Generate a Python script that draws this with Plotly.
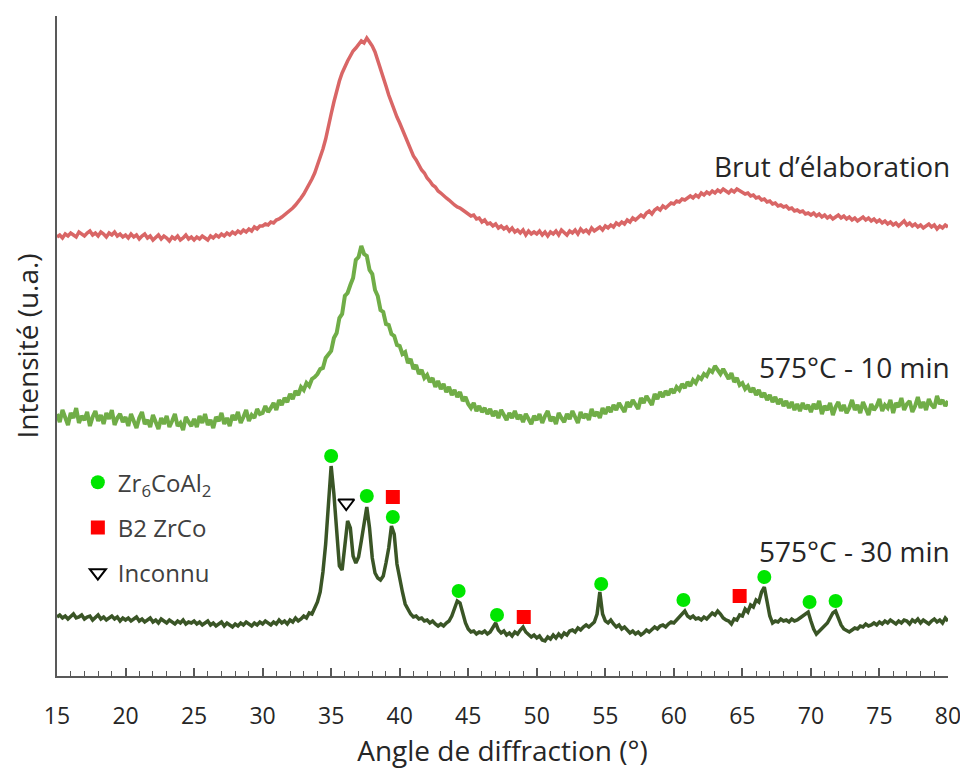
import numpy as np
import plotly.graph_objects as go

# 2-theta grid (degrees), 0.2 deg step from 15 to 80
angle = np.round(np.arange(15.0, 80.0001, 0.2), 1)

# Intensities (arbitrary units), offset curves
brut = [
    439, 441, 438, 442, 440, 443, 441, 439, 444, 442, 440, 443, 445, 441, 443, 440, 444, 442, 439, 443, 441, 444, 440, 442, 439,
    441, 438, 442, 439, 441, 437, 440, 442, 438, 440, 436, 439, 441, 437, 440, 438, 435, 439, 437, 440, 436, 438, 441, 437, 439,
    436, 439, 437, 440, 438, 436, 440, 438, 441, 439, 442, 440, 443, 441, 444, 442, 445, 443, 446, 444, 447, 445, 449, 447, 450,
    450, 452, 451, 454, 453, 456, 457, 459, 461, 463, 466, 468, 471, 474, 478, 482, 487, 491, 497, 503, 511, 518, 527, 537, 548,
    562, 574, 586, 595, 603, 610, 615, 620, 625, 628, 631, 635, 633, 638, 634, 630, 624, 616, 608, 598, 590, 581, 573, 566, 559,
    553, 546, 540, 533, 527, 520, 516, 511, 506, 503, 498, 495, 491, 489, 485, 483, 480, 478, 476, 473, 471, 469, 468, 466, 464,
    463, 460, 461, 457, 458, 454, 456, 452, 453, 450, 452, 448, 450, 447, 449, 445, 448, 444, 446, 443, 446, 441, 445, 442, 444,
    442, 445, 441, 444, 440, 444, 442, 445, 441, 446, 443, 441, 445, 443, 446, 442, 447, 444, 446, 443, 448, 445, 447, 449, 446,
    450, 448, 451, 449, 453, 451, 454, 452, 456, 454, 458, 456, 459, 461, 459, 463, 465, 462, 466, 468, 466, 470, 468, 471, 473,
    472, 475, 474, 477, 476, 478, 480, 478, 481, 479, 483, 481, 484, 482, 485, 483, 486, 484, 487, 485, 483, 486, 484, 487, 485,
    484, 482, 483, 480, 481, 478, 479, 476, 477, 474, 475, 472, 473, 470, 471, 469, 470, 467, 468, 465, 466, 464, 465, 462, 463,
    461, 463, 460, 462, 459, 461, 458, 460, 457, 459, 461, 458, 460, 457, 459, 456, 458, 455, 457, 459, 456, 458, 455, 457, 454,
    456, 453, 455, 452, 454, 451, 453, 450, 452, 455, 451, 453, 450, 452, 449, 451, 448, 450, 452, 449, 451, 447, 450, 448, 451,
    449,
]

t10min = [
    262, 254, 266, 257, 251, 263, 258, 268, 253, 260, 256, 264, 250, 259, 265, 255, 261, 252, 263, 257, 266, 251, 258, 262, 254,
    259, 250, 262, 255, 248, 258, 264, 252, 256, 249, 261, 254, 247, 258, 252, 260, 249, 255, 262, 250, 253, 246, 259, 254, 250,
    257, 249, 260, 253, 262, 251, 256, 248, 259, 255, 263, 252, 258, 250, 261, 256, 264, 253, 259, 266, 255, 261, 258, 267, 262,
    263, 270, 264, 268, 273, 266, 276, 271, 278, 274, 282, 277, 285, 281, 289, 286, 293, 290, 297, 299, 302, 307, 308, 318, 321,
    325, 338, 343, 358, 362, 380, 383, 391, 398, 416, 419, 430, 422, 420, 406, 402, 386, 380, 366, 364, 352, 351, 342, 340, 331,
    330, 322, 324, 313, 317, 307, 311, 302, 306, 298, 301, 294, 298, 289, 295, 287, 292, 284, 289, 281, 286, 279, 284, 275, 279,
    272, 268, 273, 265, 270, 264, 268, 262, 267, 260, 265, 258, 266, 261, 256, 263, 258, 265, 257, 261, 254, 262, 257, 252, 260,
    256, 262, 253, 260, 265, 255, 259, 252, 263, 258, 254, 262, 257, 265, 259, 253, 264, 258, 262, 256, 267, 260, 264, 258, 268,
    262, 269, 264, 271, 266, 273, 268, 264, 274, 269, 276, 271, 267, 278, 273, 280, 275, 271, 282, 277, 284, 279, 285, 281, 287,
    283, 289, 286, 292, 288, 294, 290, 296, 293, 299, 297, 302, 300, 306, 304, 310, 306, 302, 307, 301, 297, 303, 294, 298, 291,
    293, 287, 290, 284, 288, 281, 286, 279, 283, 276, 281, 274, 279, 272, 277, 270, 275, 268, 274, 266, 272, 265, 273, 267, 271,
    264, 272, 267, 275, 262, 270, 266, 273, 261, 269, 274, 265, 271, 263, 268, 276, 266, 271, 263, 274, 268, 261, 272, 266, 270,
    277, 265, 271, 268, 276, 263, 273, 269, 278, 266, 272, 275, 264, 270, 279, 268, 274, 266, 277, 271, 268, 280, 272, 276, 270,
    275,
]

t30min = [
    59, 61, 58, 60, 57, 60, 62, 58, 59, 61, 57, 59, 60, 56, 58, 61, 57, 59, 56, 58, 60, 57, 59, 55, 58,
    56, 58, 55, 57, 59, 55, 57, 54, 56, 58, 54, 56, 53, 57, 55, 53, 56, 54, 52, 55, 53, 56, 52, 54, 53,
    55, 52, 54, 51, 53, 55, 51, 53, 50, 52, 54, 50, 53, 51, 49, 52, 50, 53, 51, 54, 52, 50, 53, 51, 54,
    52, 55, 53, 51, 54, 52, 56, 53, 55, 52, 56, 54, 58, 55, 57, 60, 58, 63, 62, 68, 74, 84, 104, 132, 172,
    210, 182, 140, 110, 106, 128, 155, 148, 120, 113, 119, 135, 155, 169, 148, 118, 103, 98, 96, 100, 113, 128, 150, 142, 112,
    96, 84, 72, 66, 62, 59, 60, 57, 58, 55, 56, 53, 55, 52, 50, 52, 50, 53, 55, 60, 67, 75, 73, 62, 53,
    47, 44, 45, 42, 44, 43, 45, 42, 44, 48, 53, 46, 43, 45, 41, 43, 40, 44, 42, 46, 49, 44, 41, 39, 41,
    38, 40, 36, 35, 39, 37, 41, 38, 42, 39, 43, 41, 45, 46, 44, 48, 46, 49, 51, 49, 52, 54, 62, 84, 62,
    55, 53, 56, 52, 49, 51, 47, 49, 46, 43, 45, 42, 44, 41, 43, 46, 44, 47, 49, 47, 50, 51, 49, 52, 54,
    53, 56, 58, 62, 65, 60, 58, 60, 57, 58, 56, 59, 57, 60, 63, 61, 65, 62, 58, 56, 55, 52, 57, 56, 61,
    60, 67, 64, 71, 69, 76, 74, 84, 89, 75, 60, 53, 55, 54, 57, 55, 56, 54, 57, 55, 56, 58, 60, 62, 64,
    55, 47, 42, 45, 48, 50, 53, 58, 63, 65, 57, 51, 47, 45, 44, 46, 48, 47, 50, 49, 52, 50, 51, 53, 51,
    54, 52, 55, 53, 56, 54, 52, 55, 53, 56, 55, 52, 56, 54, 57, 53, 56, 54, 52, 55, 57, 54, 56, 53, 58,
    55,
]

# Phase identification markers (angle, intensity)
zr6coal2_angle = [35.0, 37.6, 39.5, 44.3, 47.1, 54.7, 60.7, 66.6, 69.9, 71.8]
zr6coal2_int = [220, 180, 159, 85, 61, 92, 76, 99, 74, 75]
b2zrco_angle = [39.5, 49.05, 64.8]
b2zrco_int = [179, 59, 80]
inconnu_angle = [36.1]
inconnu_int = [173]

curve_labels = ["Brut d\u2019élaboration", "575°C - 10 min", "575°C - 30 min"]
label_y = [510, 309, 125]

FONT = "'Open Sans', Lato, sans-serif"
TXT = "#262626"

fig = go.Figure()
fig.add_trace(go.Scatter(x=angle, y=brut, mode="lines", showlegend=False,
                         line=dict(color="#d96666", width=3.5)))
fig.add_trace(go.Scatter(x=angle, y=t10min, mode="lines", showlegend=False,
                         line=dict(color="#70ad47", width=4)))
fig.add_trace(go.Scatter(x=angle, y=t30min, mode="lines", showlegend=False,
                         line=dict(color="#3a5526", width=3.5)))

fig.add_trace(go.Scatter(x=zr6coal2_angle, y=zr6coal2_int, mode="markers",
                         name="Zr<sub>6</sub>CoAl<sub>2</sub>", legendgroup="a",
                         marker=dict(symbol="circle", size=14, color="#00e600", line=dict(width=0))))
fig.add_trace(go.Scatter(x=b2zrco_angle, y=b2zrco_int, mode="markers",
                         name="B2 ZrCo", legendgroup="b",
                         marker=dict(symbol="square", size=14, color="#ff0000", line=dict(width=0))))
fig.add_trace(go.Scatter(x=inconnu_angle, y=inconnu_int, mode="markers",
                         name="Inconnu", legendgroup="c",
                         marker=dict(symbol="triangle-down-open", size=14, color="#000000",
                                     line=dict(width=2, color="#000000"))))

for txt, yv in zip(curve_labels, label_y):
    fig.add_annotation(x=80, y=yv, text=txt, showarrow=False, xanchor="right", yanchor="middle",
                       xshift=4, font=dict(family=FONT, size=28, color=TXT))

# page body has an 8px margin: figure is 960x764, plot area spans px 57..948 x 16..676 on the page
fig.update_layout(
    width=960, height=764,
    margin=dict(l=49, r=20, t=8, b=96),
    paper_bgcolor="white", plot_bgcolor="white",
    font=dict(family=FONT, color=TXT),
    legend=dict(x=0.0234, y=0.327, xanchor="left", yanchor="top",
                font=dict(family=FONT, size=24, color="#404040"),
                tracegroupgap=11, bgcolor="rgba(0,0,0,0)"),
)
fig.update_xaxes(
    range=[15, 80], dtick=5, tick0=15, automargin=False,
    showline=True, linecolor="#595959", linewidth=2,
    ticks="inside", ticklen=8, tickwidth=1.5, tickcolor="#595959",
    minor=dict(dtick=1, ticks="inside", ticklen=5, tickwidth=1.2, tickcolor="#595959"),
    showgrid=False, zeroline=False,
    tickfont=dict(family=FONT, size=23, color=TXT),
    ticklabelstandoff=18,
    title=dict(text="Angle de diffraction (°)", font=dict(family=FONT, size=28, color=TXT), standoff=10),
)
fig.update_yaxes(
    range=[0, 660], automargin=False, showline=True, linecolor="#595959", linewidth=2,
    showticklabels=False, ticks="", showgrid=False, zeroline=False,
    title=dict(text="Intensité (u.a.)", font=dict(family=FONT, size=28, color=TXT), standoff=20),
)

fig.write_html("out.html")
